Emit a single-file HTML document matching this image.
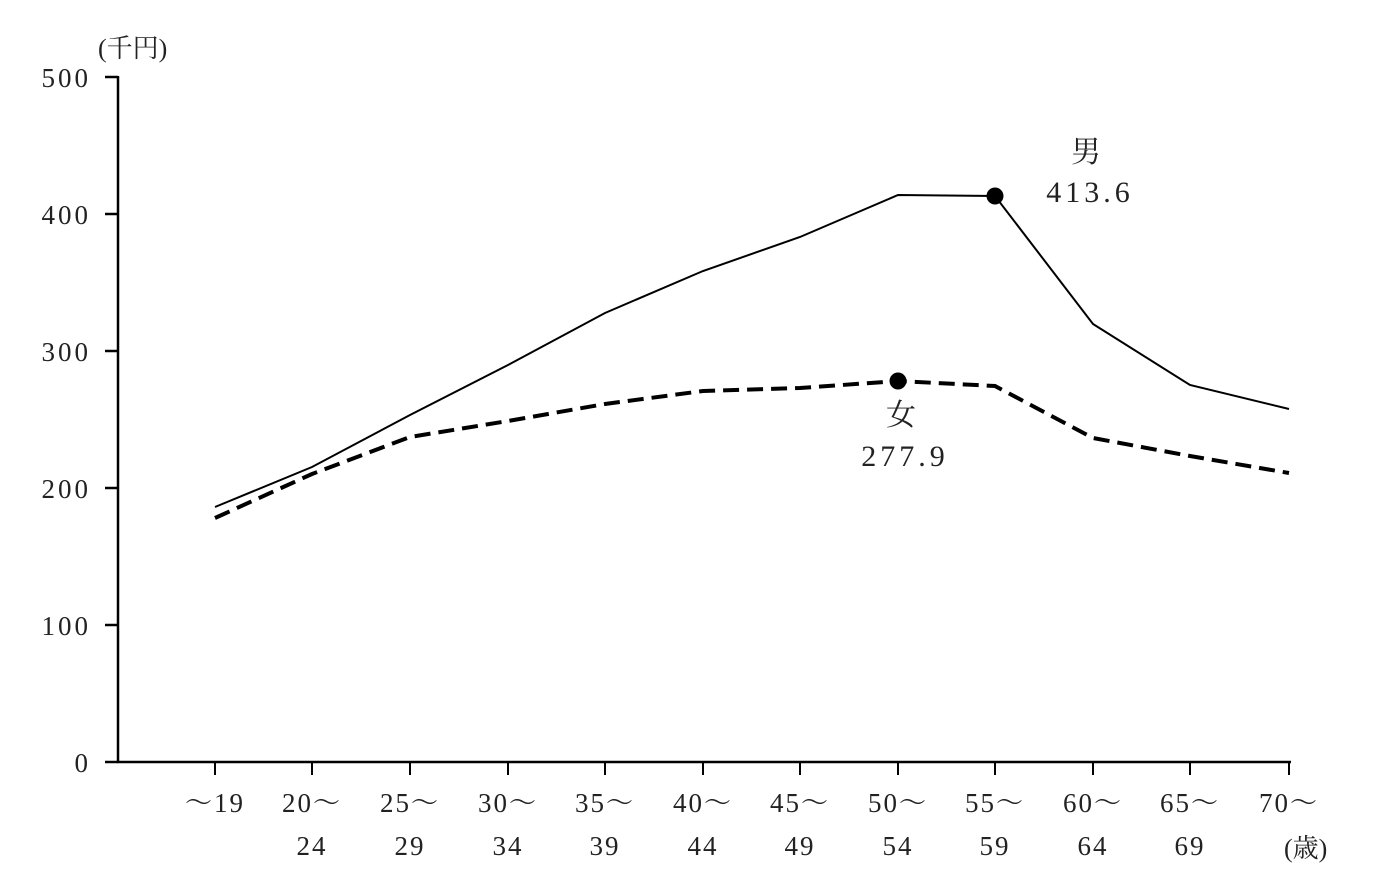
<!DOCTYPE html>
<html><head><meta charset="utf-8"><style>
html,body{margin:0;padding:0;background:#fff;}
svg text{font-family:"Liberation Serif","Noto Serif CJK SC",serif;fill:#222;}
</style></head><body>
<svg width="1376" height="885" viewBox="0 0 1376 885" xmlns="http://www.w3.org/2000/svg">
<g stroke="#000" stroke-width="2.5" fill="none">
<line x1="118" y1="76" x2="118" y2="763"/>
<line x1="117" y1="762" x2="1291" y2="762"/>
<line x1="105" y1="77" x2="118" y2="77"/>
<line x1="105" y1="214" x2="118" y2="214"/>
<line x1="105" y1="351" x2="118" y2="351"/>
<line x1="105" y1="488" x2="118" y2="488"/>
<line x1="105" y1="625" x2="118" y2="625"/>
<line x1="105" y1="762" x2="118" y2="762"/>
</g>
<g stroke="#000" stroke-width="2">
<line x1="215" y1="762" x2="215" y2="775"/><line x1="312" y1="762" x2="312" y2="775"/>
<line x1="410" y1="762" x2="410" y2="775"/><line x1="508" y1="762" x2="508" y2="775"/>
<line x1="605" y1="762" x2="605" y2="775"/><line x1="703" y1="762" x2="703" y2="775"/>
<line x1="800" y1="762" x2="800" y2="775"/><line x1="898" y1="762" x2="898" y2="775"/>
<line x1="995" y1="762" x2="995" y2="775"/><line x1="1093" y1="762" x2="1093" y2="775"/>
<line x1="1190" y1="762" x2="1190" y2="775"/><line x1="1289" y1="762" x2="1289" y2="775"/>
</g>
<g font-size="27" text-anchor="end" letter-spacing="3">
<text x="91" y="87">500</text><text x="91" y="224">400</text><text x="91" y="361">300</text>
<text x="91" y="498">200</text><text x="91" y="635">100</text><text x="91" y="772">0</text>
</g>
<text x="98" y="57" font-size="26">(千円)</text>
<g font-size="27" text-anchor="middle" letter-spacing="2">
<text x="215" y="812">～19</text>
<text x="312" y="812">20～</text><text x="312" y="855">24</text>
<text x="410" y="812">25～</text><text x="410" y="855">29</text>
<text x="508" y="812">30～</text><text x="508" y="855">34</text>
<text x="605" y="812">35～</text><text x="605" y="855">39</text>
<text x="703" y="812">40～</text><text x="703" y="855">44</text>
<text x="800" y="812">45～</text><text x="800" y="855">49</text>
<text x="898" y="812">50～</text><text x="898" y="855">54</text>
<text x="995" y="812">55～</text><text x="995" y="855">59</text>
<text x="1093" y="812">60～</text><text x="1093" y="855">64</text>
<text x="1190" y="812">65～</text><text x="1190" y="855">69</text>
<text x="1289" y="812">70～</text>
</g>
<text x="1284" y="857" font-size="26">(歳)</text>
<polyline fill="none" stroke="#000" stroke-width="2" points="215,507 312,467 410,415 508,365 605,313 703,271 800,237 898,195 995,196 1093,324 1190,385 1289,409"/>
<polyline fill="none" stroke="#000" stroke-width="4" stroke-dasharray="16,8" points="215,518 312,474 410,437 508,421 605,404 703,391 800,388 898,381 995,386 1093,438 1190,456 1289,473"/>
<circle cx="995" cy="196" r="8.5" fill="#000"/>
<circle cx="898" cy="381" r="8.5" fill="#000"/>
<g font-size="30" text-anchor="middle" letter-spacing="4">
<text x="1088" y="162">男</text><text x="1090" y="202">413.6</text>
<text x="903" y="425">女</text><text x="905" y="466">277.9</text>
</g>
</svg>
</body></html>
